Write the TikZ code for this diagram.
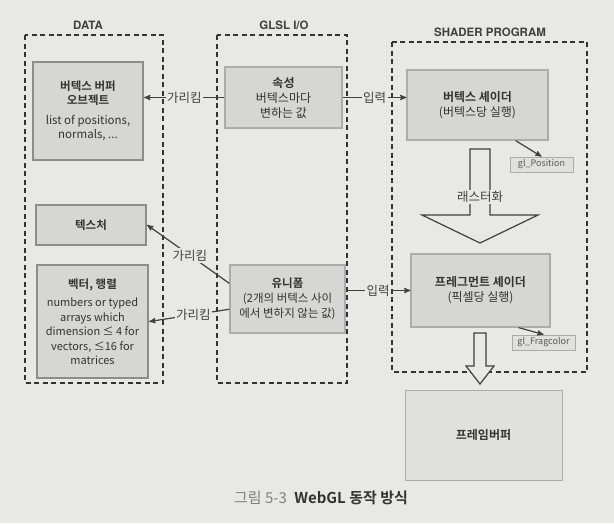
\documentclass[tikz,border=0pt]{standalone}
\usepackage{fontspec}
\setmainfont{Noto Sans CJK KR}[BoldFont={Noto Sans CJK KR Bold}]
\newfontfamily\headfont{TeX Gyre Heros}
\usetikzlibrary{arrows}
\definecolor{paper}{RGB}{232,232,230}
\definecolor{boxfill}{RGB}{214,214,212}
\definecolor{boxline}{RGB}{140,140,140}
\definecolor{thinline}{RGB}{172,172,172}
\definecolor{fbfill}{RGB}{224,224,222}
\tikzset{
  groupbox/.style={draw=black!80, line width=1.3pt, dash pattern=on 5pt off 3.5pt},
  grouptitle/.style={font=\headfont\bfseries\fontsize{11.5}{13}\selectfont, text=black!75},
  databox/.style={draw=boxline, line width=2.4pt, fill=boxfill, align=center,
    font=\fontsize{11.5}{14.5}\selectfont, text=black!80},
  iobox/.style={draw=thinline, line width=1.2pt, fill=boxfill, align=center,
    font=\fontsize{12}{15}\selectfont, text=black!80},
  outbox/.style={draw=thinline, line width=1pt, fill=fbfill, inner sep=1pt,
    font=\fontsize{9}{11}\selectfont, text=black!65},
  pointer/.style={-stealth', line width=1.2pt, draw=black!75},
  lbl/.style={fill=paper, inner sep=1.5pt, font=\fontsize{12.5}{14}\selectfont, text=black!75},
  fatarrow/.style={draw=black!75, line width=1.2pt, fill=paper, line join=miter}
}
\begin{document}
\begin{tikzpicture}[x=1pt, y=-1pt]
\fill[paper] (0,0) rectangle (614,523);
\useasboundingbox (0,0) rectangle (614,523);

\draw[groupbox] (25,35) rectangle (163,383);
\draw[groupbox] (217,35) rectangle (347,383);
\draw[groupbox] (392,42) rectangle (587,372);
\node[grouptitle] (tdata) at (88,25) {DATA};
\node[grouptitle] (tglsl) at (284,25) {GLSL I/O};
\node[grouptitle] (tshader) at (490,32) {SHADER PROGRAM};

\node[databox, minimum width=110, minimum height=98] (vbo) at (88,111)
  {\textbf{버텍스 버퍼}\\\textbf{오브젝트}\\[5pt]list of positions,\\normals, ...};
\node[databox, minimum width=110, minimum height=40] (tex) at (91,225) {\textbf{텍스처}};
\node[databox, minimum width=111, minimum height=113, font=\fontsize{11}{14.5}\selectfont] (vecmat) at (92.5,321.5)
  {\textbf{\fontsize{11.5}{14.5}\selectfont 벡터, 행렬}\\[4pt]numbers or typed\\arrays which\\dimension ≤ 4 for\\vectors, ≤16 for\\matrices};

\node[iobox, minimum width=117, minimum height=61] (attr) at (283.5,97.5)
  {\textbf{속성}\\버텍스마다\\변하는 값};
\node[iobox, minimum width=115, minimum height=68, font=\fontsize{11.5}{15}\selectfont] (unif) at (287.5,299)
  {\textbf{유니폼}\\(2개의 버텍스 사이\\에서 변하지 않는 값)};

\node[iobox, minimum width=141, minimum height=70] (vs) at (477.5,105)
  {\textbf{버텍스 셰이더}\\(버텍스당 실행)};
\node[outbox, minimum width=63, minimum height=15] (glpos) at (541.5,164.5) {gl\_Position};
\node[iobox, minimum width=139, minimum height=73] (fs) at (480.5,290.5)
  {\textbf{프레그먼트 셰이더}\\(픽셀당 실행)};
\node[outbox, minimum width=63, minimum height=15] (glfrag) at (543.5,342.5) {gl\_Fragcolor};
\node[iobox, draw=thinline, line width=1pt, fill=fbfill, minimum width=157, minimum height=90] (fb) at (483.5,435)
  {\textbf{프레임버퍼}};

\draw[pointer] (attr.west) -- node[lbl] {가리킴} (attr.west -| vbo.east);
\draw[pointer] (attr.east) -- node[lbl] {입력} (attr.east -| vs.west);
\draw[pointer] (unif.165) -- node[lbl, pos=0.48] {가리킴} (tex.east);
\draw[pointer] (unif.190) -- node[lbl, pos=0.45] {가리킴} (vecmat.east);
\draw[pointer] (fs.west -| unif.east) -- node[lbl] {입력} (fs.west);
\draw[pointer] ([xshift=-33pt]vs.south east) -- (glpos.north);
\draw[pointer] ([xshift=-32pt]fs.south east) -- (glfrag.north);

\draw[fatarrow] (470,149) -- (470,215) -- (422,215) -- (480,243) -- (538,215) -- (490,215) -- (490,149) -- cycle;
\node[lbl] (raster) at (480,197) {래스터화};
\draw[fatarrow] (474,333) -- (474,366) -- (466,366) -- (480,384) -- (494,366) -- (486,366) -- (486,333) -- cycle;

\node[font=\fontsize{15}{17}\selectfont, text=black!80] (cap) at (321,498)
  {{\color{black!50}그림 5-3}\enspace\textbf{WebGL 동작 방식}};
\end{tikzpicture}
\end{document}
